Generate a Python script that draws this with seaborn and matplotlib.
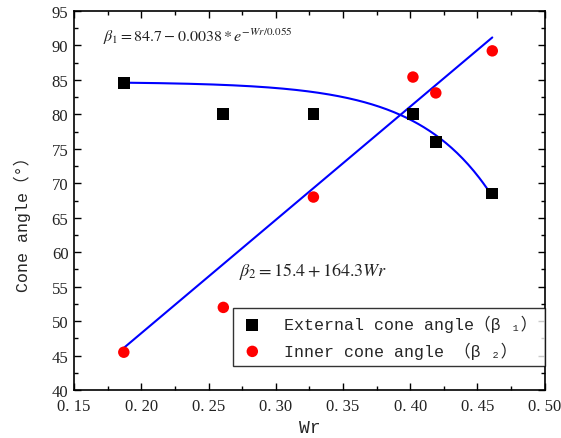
import numpy as np
import pandas as pd
import matplotlib
matplotlib.use("Agg")
import matplotlib.pyplot as plt
from matplotlib.ticker import MultipleLocator, FuncFormatter
import seaborn as sns

# Measured cone angles versus Wr
wr = [0.187, 0.261, 0.328, 0.402, 0.419, 0.461]
external_angle = [84.5, 80.0, 80.0, 80.1, 76.0, 68.5]
inner_angle = [45.5, 52.0, 68.0, 85.4, 83.1, 89.2]

# Fitted models
ext_a, ext_b, ext_t = 84.7, 0.0038, 0.055
inn_a, inn_b = 15.4, 164.3

sns.set_theme(style="ticks")
plt.rcParams["mathtext.fontset"] = "stix"

mono = ["Liberation Mono", "DejaVu Sans Mono", "Noto Sans CJK SC"]

fig = plt.figure(figsize=(5.61, 4.39), dpi=100)
ax = fig.add_axes([0.132, 0.109, 0.839, 0.864])

df = pd.DataFrame({"Wr": wr, "ext": external_angle, "inn": inner_angle})

sns.scatterplot(data=df, x="Wr", y="ext", marker="s", s=72, color="black",
                edgecolor="none", ax=ax, zorder=3,
                label="External cone angle\uff08β\u2009₁\uff09")
sns.scatterplot(data=df, x="Wr", y="inn", marker="o", s=68, color="red",
                edgecolor="none", ax=ax, zorder=3,
                label="Inner cone angle \uff08β\u2009₂\uff09")

xs = np.linspace(min(wr), max(wr), 200)
fit = pd.DataFrame({
    "Wr": xs,
    "ext": ext_a - ext_b * np.exp(xs / ext_t),
    "inn": inn_a + inn_b * xs,
})
sns.lineplot(data=fit, x="Wr", y="ext", color="#0000ff", lw=1.5, ax=ax,
             zorder=2)
sns.lineplot(data=fit, x="Wr", y="inn", color="#0000ff", lw=1.5, ax=ax,
             zorder=2)

ax.set_xlim(0.15, 0.50)
ax.set_ylim(40, 95)
ax.xaxis.set_major_locator(MultipleLocator(0.05))
ax.xaxis.set_minor_locator(MultipleLocator(0.025))
ax.yaxis.set_major_locator(MultipleLocator(5))
ax.yaxis.set_minor_locator(MultipleLocator(2.5))
ax.xaxis.set_major_formatter(FuncFormatter(lambda v, p: f"{v:.2f}".replace(".", ". ")))

for s in ax.spines.values():
    s.set_color("black")
    s.set_linewidth(1.2)
ax.tick_params(which="both", direction="in", top=True, right=True,
               color="black", width=1.0)
ax.tick_params(which="major", length=5)
ax.tick_params(which="minor", length=3)
ax.tick_params(axis="y", labelsize=12, pad=4, labelcolor="#222222")
ax.tick_params(axis="x", labelsize=12, pad=6, labelcolor="#222222")
for lab in ax.get_yticklabels() + ax.get_xticklabels():
    lab.set_family("Liberation Serif")

ax.set_xlabel("Wr", family=mono, fontsize=13, labelpad=3)
ax.set_ylabel("Cone angle\uff08°\uff09", family=mono, fontsize=12)
ax.yaxis.set_label_coords(-0.092, 0.45)

ax.text(0.1715, 91.4, r"$\beta_1 = 84.7 - 0.0038*e^{-Wr/0.055}$",
        fontsize=11.5, ha="left", va="center", color="#222222")
ax.text(0.273, 57.3, r"$\beta_2 = 15.4 + 164.3Wr$",
        fontsize=13, ha="left", va="center", color="#222222")

leg = ax.legend(loc="lower right", bbox_to_anchor=(1.0, 0.063),
                borderaxespad=0, frameon=True, fancybox=False,
                prop={"family": mono, "size": 12},
                handletextpad=1.2, borderpad=0.45, labelspacing=0.55,
                handlelength=1.4)
leg.get_frame().set_edgecolor("black")
leg.get_frame().set_linewidth(1.0)

fig.savefig("out.png", dpi=100)
